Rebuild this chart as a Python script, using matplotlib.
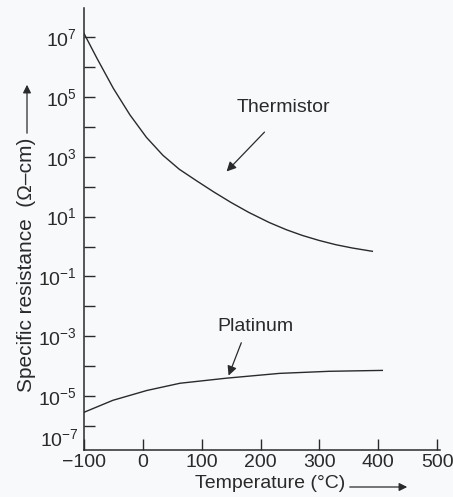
import numpy as np
import matplotlib
matplotlib.use("Agg")
import matplotlib.pyplot as plt

plt.rcParams['font.family'] = ['Liberation Sans', 'DejaVu Sans']
plt.rcParams['mathtext.fontset'] = 'custom'
plt.rcParams['mathtext.rm'] = 'Liberation Sans'
plt.rcParams['mathtext.it'] = 'Liberation Sans:italic'

# values (temperature in degC, log10 of resistance in ohm-cm)
therm_t = [-100, -78, -50, -22, 6, 34, 62, 91, 120, 150, 180, 215, 244, 271, 300, 328, 356, 390]
therm_log = [7.12, 6.29, 5.28, 4.40, 3.65, 3.05, 2.58, 2.20, 1.83, 1.47, 1.14, 0.80,
             0.56, 0.37, 0.20, 0.06, -0.05, -0.16]

plat_t = [-100, -51, 7, 63, 142, 232, 317, 407]
plat_log = [-5.54, -5.14, -4.81, -4.57, -4.40, -4.24, -4.17, -4.14]

x_ticks = [-100, 0, 100, 200, 300, 400, 500]
y_exps = list(range(-6, 8))
ink = '#2a2a2a'
bg = '#f8f9fb'
fs = 14

fig = plt.figure(figsize=(4.53, 4.97), dpi=100, facecolor=bg)
ax = fig.add_axes([84 / 453, 1 - 450 / 497, (440 - 84) / 453, (450 - 8) / 497])
ax.set_facecolor(bg)

ax.semilogy(therm_t, 10.0 ** np.array(therm_log), color=ink, lw=1.0)
ax.semilogy(plat_t, 10.0 ** np.array(plat_log), color=ink, lw=1.0)

ax.set_xlim(-100, 505)
ax.set_ylim(10 ** -6.8, 10 ** 7.97)

ax.set_xticks(x_ticks)
ax.set_xticklabels([str(t).replace('-', '\u2212') for t in x_ticks])
ax.set_yticks([10.0 ** e for e in y_exps])
ax.set_yticklabels(['$10^{%d}$' % e if e % 2 else '' for e in y_exps])
ax.minorticks_off()
ax.tick_params(direction='in', length=8, width=1.0, color=ink, labelcolor=ink,
               labelsize=fs, pad=5)
ax.tick_params(axis='x', pad=3)

for s in ['top', 'right']:
    ax.spines[s].set_visible(False)
for s in ['left', 'bottom']:
    ax.spines[s].set_color(ink)
    ax.spines[s].set_linewidth(1.1)

# bottom decade label sits just above the axis line
ax.annotate('$10^{-7}$', xy=(0, 0), xycoords='axes fraction', xytext=(-5, 0),
            textcoords='offset pixels', ha='right', va='bottom', fontsize=fs, color=ink)

# curve labels with arrows
ax.annotate('', xy=(139, 10 ** 2.44), xytext=(210, 10 ** 3.89),
            arrowprops=dict(arrowstyle='-|>', color=ink, lw=0.9, mutation_scale=14))
ax.text(239, 10 ** 4.63, 'Thermistor', fontsize=fs, color=ink, ha='center', va='center')

ax.annotate('', xy=(144, 10 ** -4.40), xytext=(169, 10 ** -3.13),
            arrowprops=dict(arrowstyle='-|>', color=ink, lw=0.9, mutation_scale=14))
ax.text(191, 10 ** -2.67, 'Platinum', fontsize=fs, color=ink, ha='center', va='center')

# axis titles with their arrows
fig.text(27 / 453, 1 - 265 / 497, 'Specific resistance  (\u03a9\u2013cm)', rotation=90,
         fontsize=15, color=ink, ha='center', va='center')
fig.add_artist(matplotlib.patches.FancyArrowPatch(
    (27 / 453, 1 - 136 / 497), (27 / 453, 1 - 82 / 497), transform=fig.transFigure,
    arrowstyle='-|>', color=ink, lw=0.9, mutation_scale=12))

fig.text(270 / 453, 1 - 484 / 497, 'Temperature (\u00b0C)', fontsize=fs, color=ink,
         ha='center', va='center')
fig.add_artist(matplotlib.patches.FancyArrowPatch(
    (347 / 453, 1 - 487 / 497), (410 / 453, 1 - 487 / 497), transform=fig.transFigure,
    arrowstyle='-|>', color=ink, lw=0.9, mutation_scale=12))

fig.savefig('out.png', dpi=100, facecolor=bg)
